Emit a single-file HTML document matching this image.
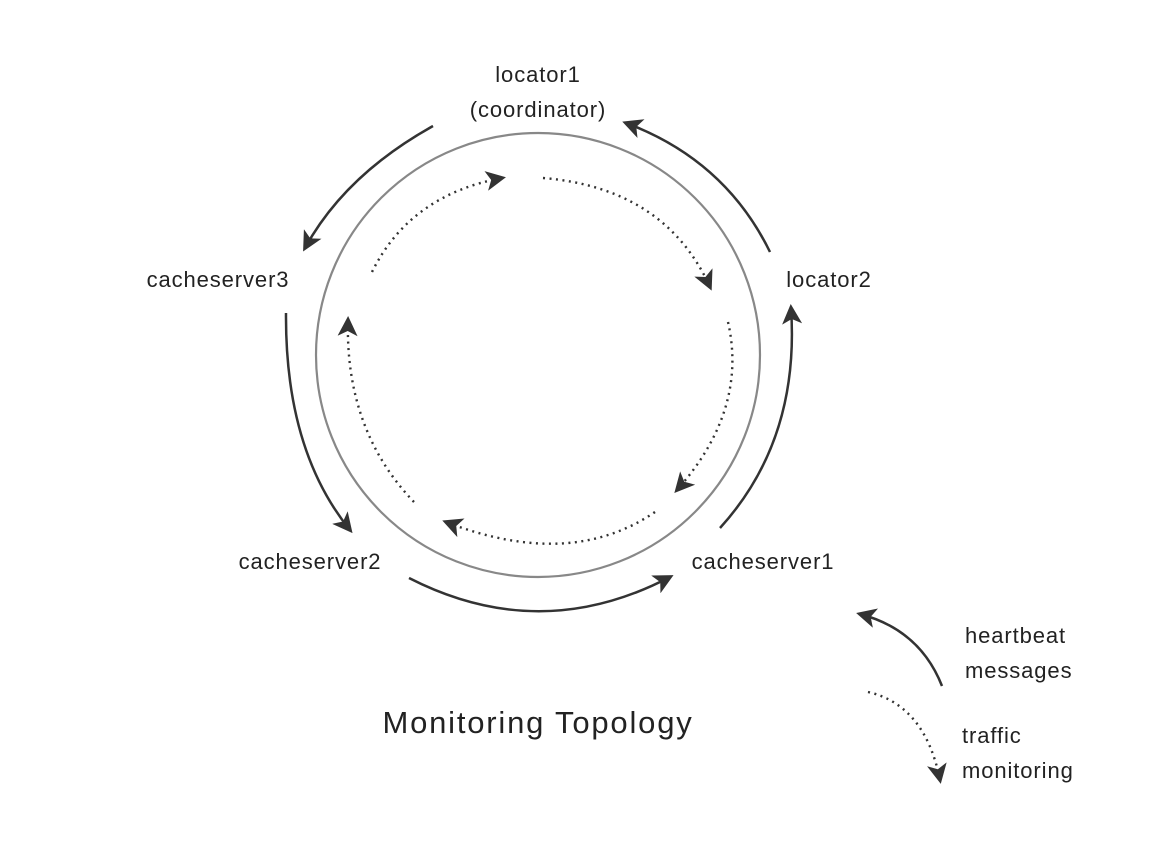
<!DOCTYPE html>
<html><head><meta charset="utf-8"><style>
html,body{margin:0;padding:0;background:#fff;}
svg{display:block;}
text{font-family:"Liberation Sans",sans-serif;fill:#222;}
</style></head><body>
<svg width="1160" height="861" viewBox="0 0 1160 861" xmlns="http://www.w3.org/2000/svg">
<defs>
<marker id="a" viewBox="0 0 20 20" refX="16" refY="10" markerWidth="20" markerHeight="20" markerUnits="userSpaceOnUse" orient="auto">
<path d="M0,0 L20,10 L0,20 L5,10 Z" fill="#333"/>
</marker>
</defs>
<circle cx="538" cy="355" r="222" fill="none" stroke="#888" stroke-width="2.2"/>
<g fill="none" stroke="#333" stroke-width="2.5" marker-end="url(#a)">
<path d="M433,126 Q345,175 305,248"/>
<path d="M770,252 Q725,160 626,123"/>
<path d="M720,528 Q800,440 791,308"/>
<path d="M409,578 Q540,645 670,577"/>
<path d="M286,313 Q285,450 350,530"/>
<path d="M942,686 Q920,630 860,614"/>
</g>
<g fill="none" stroke="#333" stroke-width="2.4" stroke-dasharray="2,4.5" marker-end="url(#a)">
<path d="M372,272 Q410,195 502,178"/>
<path d="M543,178 Q665,188 710,287"/>
<path d="M728,322 Q748,410 677,490"/>
<path d="M655,512 Q570,570 446,522"/>
<path d="M414,502 Q345,430 348,320"/>
<path d="M868,692 Q925,705 940,780"/>
</g>
<g font-size="22" letter-spacing="0.9">
<text x="538" y="82" text-anchor="middle">locator1</text>
<text x="538" y="117" text-anchor="middle">(coordinator)</text>
<text x="218" y="287" text-anchor="middle">cacheserver3</text>
<text x="829" y="287" text-anchor="middle">locator2</text>
<text x="310" y="569" text-anchor="middle">cacheserver2</text>
<text x="763" y="569" text-anchor="middle">cacheserver1</text>
<text x="965" y="643">heartbeat</text>
<text x="965" y="678">messages</text>
<text x="962" y="743">traffic</text>
<text x="962" y="778">monitoring</text>
</g>
<text x="538" y="733" text-anchor="middle" font-size="31" letter-spacing="1.8">Monitoring Topology</text>
</svg>
</body></html>
